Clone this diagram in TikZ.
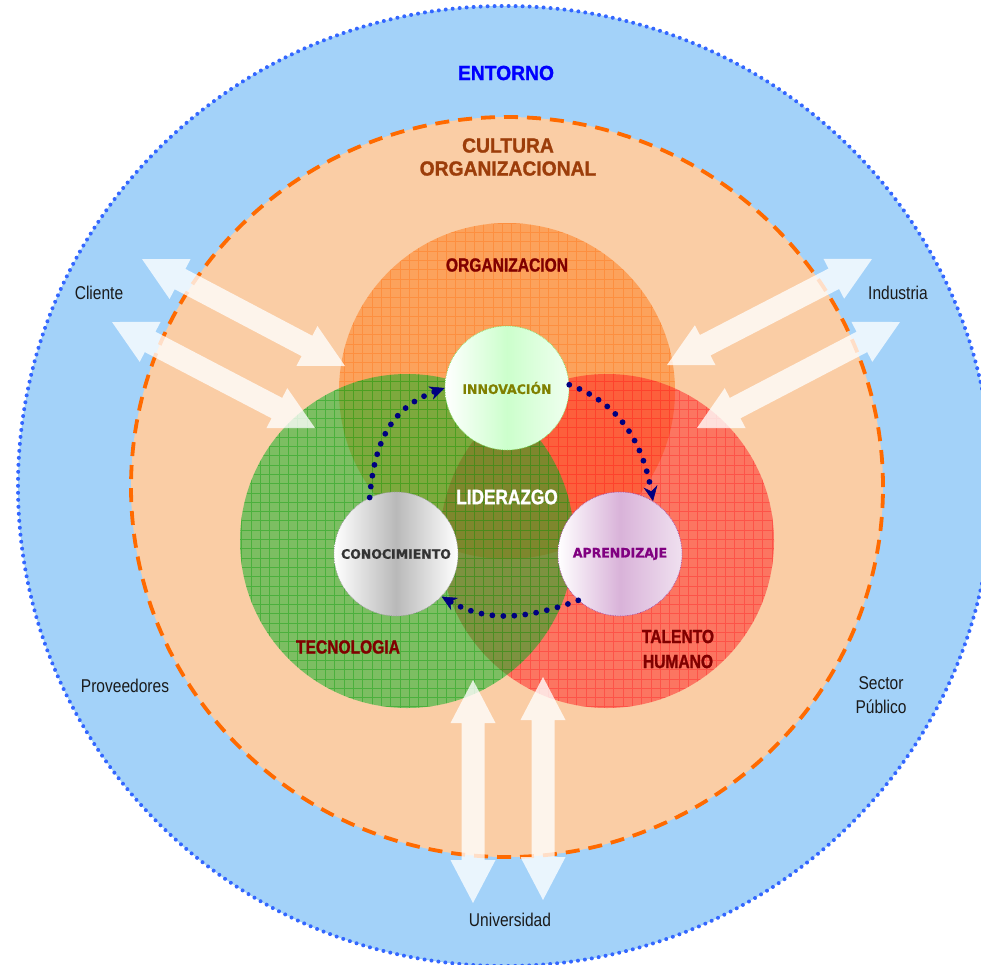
\documentclass[tikz,border=0pt]{standalone}
\usepackage{fontspec}
\setmainfont{Liberation Sans}
\newfontfamily\nbold[FakeStretch=0.82,FakeBold=1.2]{Liberation Sans Bold}
\newfontfamily\nreg[FakeStretch=0.84]{Liberation Sans}
\newfontfamily\cbold[FakeStretch=0.94,FakeBold=1.2]{Liberation Sans Bold}
\newfontfamily\vbold[FakeStretch=0.96,FakeBold=0.8]{DejaVu Sans Bold}
\usetikzlibrary{calc,arrows.meta}
\definecolor{skyb}{HTML}{A3D2F9}
\definecolor{dotb}{HTML}{3366FF}
\definecolor{peach}{HTML}{FACDA5}
\definecolor{dashor}{HTML}{FF6A00}
\definecolor{orgc}{HTML}{FF7814}
\definecolor{orgg}{HTML}{FF7A20}
\definecolor{redc}{HTML}{FF1E1E}
\definecolor{redg}{HTML}{FF2A2A}
\definecolor{grnc}{HTML}{00B020}
\definecolor{grng}{HTML}{10A010}
\definecolor{dred}{HTML}{800000}
\definecolor{brownc}{HTML}{9C3D0A}
\definecolor{navyc}{HTML}{000080}
\definecolor{olivec}{HTML}{808000}
\definecolor{purpc}{HTML}{800080}
\definecolor{labc}{HTML}{1A1A1A}
\newcommand\dblarr[2]{%
  \coordinate (#1h) at ($(#1)!43pt!(#2)$);
  \coordinate (#2h) at ($(#2)!43pt!(#1)$);
  \fill[bigarr] (#1)
    -- ($(#1h)!22.5pt!90:(#2)$) -- ($(#1h)!11.5pt!90:(#2)$)
    -- ($(#2h)!11.5pt!-90:(#1)$) -- ($(#2h)!22.5pt!-90:(#1)$)
    -- (#2)
    -- ($(#2h)!22.5pt!90:(#1)$) -- ($(#2h)!11.5pt!90:(#1)$)
    -- ($(#1h)!11.5pt!-90:(#2)$) -- ($(#1h)!22.5pt!-90:(#2)$)
    -- cycle;}
\begin{document}
\begin{tikzpicture}[x=1pt,y=-1pt,
  bigarr/.style={white, fill opacity=0.78},
  ttl/.style={font=\cbold\fontsize{20.5}{23}\selectfont, align=center, inner sep=0pt},
  setlab/.style={font=\nbold\fontsize{19}{25}\selectfont, text=dred, align=center, inner sep=0pt},
  envlab/.style={font=\nreg\fontsize{18.5}{24}\selectfont, text=labc, align=center, inner sep=0pt},
  knode/.style={circle, minimum size=124pt, inner sep=0pt, densely dotted, line width=0.7pt,
     font=\vbold\fontsize{13}{15}\selectfont},
  dotline/.style={navyc, line width=5.8pt, line cap=round, dash pattern=on 0pt off 11pt,
     -{Stealth[length=15pt,width=14pt,inset=5pt,line width=0.5pt]}},
  gridl/.style={line width=0.8pt, opacity=0.45}
]
\useasboundingbox (0,0) rectangle (981,964);
\clip (0,0) rectangle (981,964);
% environment
\fill[skyb] (505,486) ellipse [x radius=487pt, y radius=480pt];
\draw[dotb, line width=4pt, line cap=round, dash pattern=on 0pt off 7pt] (505,486) ellipse [x radius=487pt, y radius=480pt];
% culture
\fill[peach] (507,487) ellipse [x radius=376pt, y radius=370pt];
\draw[dashor, line width=3.8pt, dash pattern=on 14pt off 9pt] (507,487) ellipse [x radius=376pt, y radius=370pt];
% organizacion
\fill[orgc, fill opacity=0.5] (507,391) circle [radius=168pt];
\begin{scope}
  \clip (507,391) circle [radius=168pt];
  \draw[orgg, gridl, step=9.3pt] (330,215) grid (690,570);
\end{scope}
% talento humano
\fill[redc, fill opacity=0.5] (607,541) circle [radius=167pt];
\begin{scope}
  \clip (607,541) circle [radius=167pt];
  \draw[redg, gridl, step=9.3pt] (430,365) grid (790,720);
\end{scope}
% tecnologia
\fill[grnc, fill opacity=0.5] (407,541) circle [radius=167pt];
\begin{scope}
  \clip (407,541) circle [radius=167pt];
  \draw[grng, gridl, step=9.3pt] (230,365) grid (590,720);
\end{scope}
% big double arrows
\coordinate (a1o) at (142,259); \coordinate (a1i) at (345,366);
\coordinate (a2o) at (112,322); \coordinate (a2i) at (315,428);
\coordinate (a3o) at (872,259); \coordinate (a3i) at (667,365);
\coordinate (a4o) at (900,322); \coordinate (a4i) at (697,428);
\coordinate (a5i) at (473,680); \coordinate (a5o) at (473,903);
\coordinate (a6i) at (543,677); \coordinate (a6o) at (543,900);
\dblarr{a1o}{a1i}
\dblarr{a2o}{a2i}
\dblarr{a3o}{a3i}
\dblarr{a4o}{a4i}
\dblarr{a5i}{a5o}
\dblarr{a6i}{a6o}
% titles
\node[ttl, text=blue] (ent) at (506,73) {ENTORNO};
\node[ttl, text=brownc] (cul) at (508,157) {CULTURA\\ORGANIZACIONAL};
\node[setlab] (org) at (507,265) {ORGANIZACION};
\node[setlab] (tec) at (348,647) {TECNOLOGIA};
\node[setlab] (tal) at (678,649) {TALENTO\\HUMANO};
\node[setlab, text=white, font=\nbold\fontsize{21}{24}\selectfont] (lid) at (507,497) {LIDERAZGO};
% environment labels
\node[envlab] (cli) at (99,293) {Cliente};
\node[envlab] (ind) at (898,293) {Industria};
\node[envlab] (pro) at (125,686) {Proveedores};
\node[envlab] (sec) at (881,695) {Sector\\Público};
\node[envlab] (uni) at (510,920) {Universidad};
% core nodes
\node[knode, draw=green!60!olive!60, left color=white, right color=green!6, middle color=green!20, text=olivec] (inn) at (507,388) {INNOVACIÓN};
\node[knode, draw=gray!80, left color=white, right color=white, middle color=gray!55, text=black!80] (con) at (396,554) {CONOCIMIENTO};
\node[knode, draw=purpc!70, left color=white, right color=violet!12, middle color=violet!30, text=purpc] (apr) at (620,554) {APRENDIZAJE};
% cycle connectors
\draw[dotline] (con.115) to[out=85,in=200,looseness=1.1] (inn.180);
\draw[dotline] (inn.3) to[out=-20,in=100] (apr.58);
\draw[dotline] (apr.228) to[out=200,in=-30] (con.317);
\end{tikzpicture}
\end{document}
